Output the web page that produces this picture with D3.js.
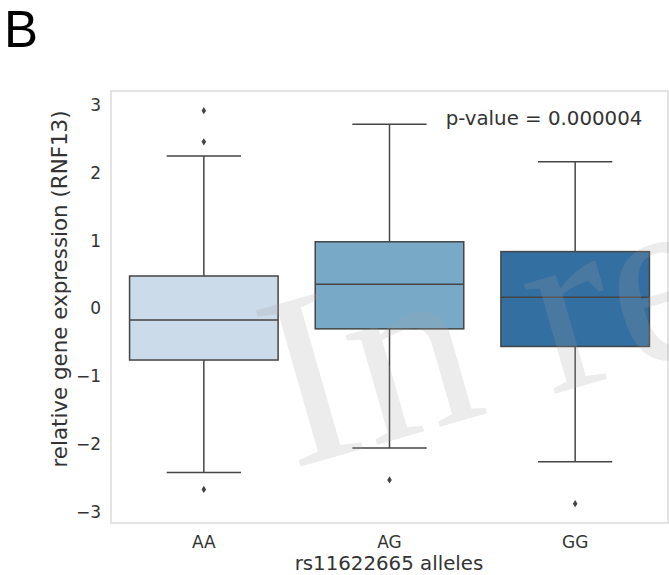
<!DOCTYPE html>
<html>
<head>
<meta charset="utf-8">
<script src="https://cdn.jsdelivr.net/npm/d3@7"></script>
<style>
  body { margin: 0; background: #fff; }
  svg { display: block; }
</style>
</head>
<body>
<svg id="chart" width="669" height="575"></svg>
<script>
// values
const alleles = ["AA", "AG", "GG"];
const q1 = [-0.76, -0.30, -0.56];
const medians = [-0.17, 0.36, 0.165];
const q3 = [0.48, 0.985, 0.84];
const whiskerLow = [-2.42, -2.06, -2.26];
const whiskerHigh = [2.25, 2.72, 2.165];
const outliers = [[2.92, 2.46, -2.67], [-2.53], [-2.88]];
const boxColors = ["#cbdbea", "#78aac8", "#346fa2"];
const yTicks = [-3, -2, -1, 0, 1, 2, 3];

const svg = d3.select("#chart");
const frame = { left: 111, top: 91, right: 668, bottom: 523 };
const lineColor = "#454545";
const sans = "'DejaVu Sans', sans-serif";

const x = d3.scaleBand().domain(alleles).range([frame.left, frame.right]).padding(0);
const y = d3.scaleLinear().domain([-3.165, 3.21]).range([frame.bottom, frame.top]);

const boxW = x.bandwidth() * 0.8;
const capW = boxW / 2;

const rows = alleles.map((a, i) => ({
    allele: a, q1: q1[i], med: medians[i], q3: q3[i],
    lo: whiskerLow[i], hi: whiskerHigh[i], out: outliers[i], color: boxColors[i]
}));

// plot frame
svg.append("rect")
    .attr("x", frame.left).attr("y", frame.top)
    .attr("width", frame.right - frame.left).attr("height", frame.bottom - frame.top)
    .attr("fill", "#fff").attr("stroke", "#dadada").attr("stroke-width", 1.5);

const g = svg.append("g");

rows.forEach(d => {
    const cx = x(d.allele) + x.bandwidth() / 2;
    // whiskers
    g.append("line").attr("x1", cx).attr("x2", cx).attr("y1", y(d.q3)).attr("y2", y(d.hi))
        .attr("stroke", lineColor).attr("stroke-width", 1.5);
    g.append("line").attr("x1", cx).attr("x2", cx).attr("y1", y(d.q1)).attr("y2", y(d.lo))
        .attr("stroke", lineColor).attr("stroke-width", 1.5);
    [d.hi, d.lo].forEach(v => {
        g.append("line").attr("x1", cx - capW / 2).attr("x2", cx + capW / 2)
            .attr("y1", y(v)).attr("y2", y(v))
            .attr("stroke", lineColor).attr("stroke-width", 1.5);
    });
    // box
    g.append("rect")
        .attr("x", cx - boxW / 2).attr("y", y(d.q3))
        .attr("width", boxW).attr("height", y(d.q1) - y(d.q3))
        .attr("fill", d.color).attr("stroke", lineColor).attr("stroke-width", 1.5);
    g.append("line").attr("x1", cx - boxW / 2).attr("x2", cx + boxW / 2)
        .attr("y1", y(d.med)).attr("y2", y(d.med))
        .attr("stroke", lineColor).attr("stroke-width", 1.5);
    // outliers (thin diamonds)
    d.out.forEach(v => {
        const py = y(v);
        g.append("path")
            .attr("d", `M${cx},${py - 3.6}L${cx + 2.3},${py}L${cx},${py + 3.6}L${cx - 2.3},${py}Z`)
            .attr("fill", lineColor);
    });
});

// watermark, clipped at the figure edge like in the reference
svg.append("clipPath").attr("id", "page")
    .append("rect").attr("x", 0).attr("y", 0).attr("width", 669).attr("height", 575);
svg.append("g").attr("clip-path", "url(#page)")
    .append("text")
    .attr("transform", "translate(292,469) rotate(-16)")
    .style("font-family", "'Liberation Serif', 'DejaVu Serif', serif")
    .attr("font-size", 248)
    .attr("fill", "#a0a0a0").attr("fill-opacity", 0.2)
    .text("In re");

// y axis tick labels
svg.append("g").selectAll("text").data(yTicks).join("text")
    .attr("x", 101).attr("y", d => y(d)).attr("dy", "0.35em")
    .attr("text-anchor", "end").style("font-family", sans)
    .attr("font-size", 17).attr("fill", "#333")
    .text(d => d < 0 ? "\u2212" + Math.abs(d) : d);

// x axis tick labels
svg.append("g").selectAll("text").data(alleles).join("text")
    .attr("x", d => x(d) + x.bandwidth() / 2).attr("y", 548)
    .attr("text-anchor", "middle").style("font-family", sans)
    .attr("font-size", 17).attr("fill", "#333")
    .text(d => d);

svg.append("text").attr("x", 389).attr("y", 570).attr("text-anchor", "middle")
    .style("font-family", sans)
    .attr("font-size", 19.8).attr("fill", "#333").text("rs11622665 alleles");

svg.append("text")
    .attr("transform", "translate(67,289) rotate(-90)")
    .attr("text-anchor", "middle").style("font-family", sans)
    .attr("font-size", 21.4).attr("fill", "#333")
    .text("relative gene expression (RNF13)");

svg.append("text").attr("x", 544).attr("y", 125).attr("text-anchor", "middle")
    .style("font-family", sans)
    .attr("font-size", 19.8).attr("fill", "#333").text("p-value = 0.000004");

svg.append("text").attr("x", 4).attr("y", 47)
    .style("font-family", "'Liberation Sans', Arial, sans-serif")
    .attr("font-size", 51).attr("fill", "#000").text("B");
</script>
</body>
</html>
